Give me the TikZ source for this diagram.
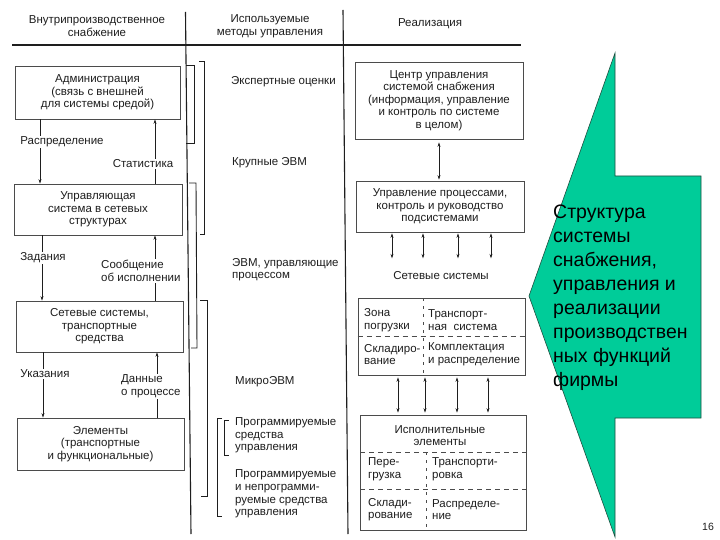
\documentclass[tikz,border=0pt]{standalone}
\usepackage{fontspec}
\setmainfont{Liberation Sans}
\usetikzlibrary{arrows.meta}
\definecolor{tealg}{HTML}{00CC99}
\definecolor{ink}{HTML}{1E1E1E}
\definecolor{tealedge}{HTML}{1F4F40}
\newcommand\scanfs{\fontsize{11.5pt}{12.6pt}\selectfont}
\newcommand\greenfs{\fontsize{19.5pt}{24pt}\selectfont}
\tikzset{
  box/.style={draw=ink!80, line width=0.7pt, align=center, inner sep=0pt, font=\scanfs, text=ink},
  lbl/.style={font=\scanfs, fill=white, inner sep=1pt, align=left, text=ink},
  txt/.style={font=\scanfs, inner sep=0pt, align=left, text=ink, anchor=west},
  arr/.style={draw=ink, line width=0.6pt, -{Stealth[length=4.5pt,width=3pt]}},
  darr/.style={draw=ink, line width=0.6pt, {Stealth[length=4.5pt,width=3pt]}-{Stealth[length=4.5pt,width=3pt]}},
  rule/.style={draw=ink, line width=1.1pt},
  brk/.style={draw=ink, line width=0.9pt},
  celldash/.style={draw=ink!80, line width=0.6pt, dash pattern=on 5pt off 4pt},
  cellvdash/.style={draw=ink!80, line width=0.6pt, dash pattern=on 3pt off 5pt},
}
\begin{document}
\begin{tikzpicture}[x=1pt,y=-1pt]
\useasboundingbox (0,0) rectangle (720,540);
\fill[white] (0,0) rectangle (720,540);

% green callout shape
\draw[fill=tealg, draw=tealedge, line width=0.6pt]
  (615,53) -- (615,176) -- (701,176) -- (701,418) -- (615,418) -- (615,537) -- (529,296) -- cycle;

% header
\node[font=\scanfs, align=center, text=ink] (h1) at (97,26) {Внутрипроизводственное\\снабжение};
\node[font=\scanfs, align=center, text=ink] (h2) at (270,26) {Используемые\\методы управления};
\node[font=\scanfs, text=ink] (h3) at (430,24) {Реализация};
\draw[rule] (12,45) -- (521,45);
\draw[rule] (185.5,12) -- (191,534);
\draw[rule] (343,10) -- (348,534);

% column 1 boxes
\node[box, minimum width=165pt, minimum height=53pt] (adm) at (97.5,92.5) {Администрация\\(связь с внешней\\для системы средой)};
\node[box, minimum width=168pt, minimum height=51pt] (ups) at (98,209.5) {Управляющая\\система в сетевых\\структурах};
\node[box, minimum width=167pt, minimum height=51pt] (net) at (99.5,326.5) {Сетевые системы,\\транспортные\\средства};
\node[box, minimum width=167pt, minimum height=52pt] (elm) at (100.5,444) {Элементы\\(транспортные\\и функциональные)};

\coordinate (c1) at (40,0);
\coordinate (c2) at (155,0);
\coordinate (c3) at (42,0);
\coordinate (c4) at (155,0);
\coordinate (c5) at (43,0);
\coordinate (c6) at (157,0);
\draw[arr] (adm.south -| c1) -- (ups.north -| c1);
\draw[arr] (ups.north -| c2) -- (adm.south -| c2);
\draw[arr] (ups.south -| c3) -- (net.north -| c3);
\draw[arr] (net.north -| c4) -- (ups.south -| c4);
\draw[arr] (net.south -| c5) -- (elm.north -| c5);
\draw[arr] (elm.north -| c6) -- (net.south -| c6);
\node[lbl] (l1) at (62,142) {Распределение};
\node[lbl] (l2) at (143,164) {Статистика};
\node[lbl] (l3) at (43,258) {Задания};
\node[lbl, anchor=west] (l4) at (100,271) {Сообщение\\об исполнении};
\node[lbl] (l5) at (45,374) {Указания};
\node[lbl, anchor=west] (l6) at (120,386.5) {Данные\\о процессе};

% column 2 brackets
\draw[brk] (186,65) -- (194,65) -- (194,143) -- (186,143);
\draw[brk] (199,61) -- (204,61) -- (204,234) -- (200,234);
\draw[brk] (189,183) -- (196,183) -- (197,348) -- (191,348);
\draw[brk] (200,300) -- (207,300) -- (207,496) -- (201,496);
\draw[brk] (222,418) -- (217,418) -- (217,516) -- (222,516);
\draw[brk] (229,420) -- (224,420) -- (224,455) -- (229,455);

% column 2 labels
\node[txt] (m1) at (231,82) {Экспертные оценки};
\node[txt] (m2) at (232,163) {Крупные ЭВМ};
\node[txt] (m3) at (232,269.5) {ЭВМ, управляющие\\процессом};
\node[txt] (m4) at (235,382) {МикроЭВМ};
\node[txt] (m5) at (235,435.5) {Программируемые\\средства\\управления};
\node[txt] (m6) at (235,494) {Программируемые\\и непрограмми-\\руемые средства\\управления};

% column 3
\node[box, minimum width=168pt, minimum height=77pt] (ctr) at (439,100.5) {Центр управления\\системой снабжения\\(информация, управление\\и контроль по системе\\в целом)};
\node[box, minimum width=168pt, minimum height=51pt] (upr) at (440,206.5) {Управление процессами,\\контроль и руководство\\подсистемами};
\node[font=\scanfs, text=ink] (ss) at (441,276) {Сетевые системы};
\node[box, minimum width=167pt, minimum height=77pt] (g1) at (441.5,336.5) {};
\node[box, minimum width=166pt, minimum height=115pt] (g2) at (443,472.5) {};

\draw[celldash] (g1.west) -- (g1.east);
\draw[cellvdash] (423,298) -- (423,375);
\node[txt] (g1a) at (364,320) {Зона\\погрузки};
\node[txt] (g1b) at (428,320) {Транспорт-\\ная\ \ система};
\node[txt] (g1c) at (364,354.5) {Складиро-\\вание};
\node[txt] (g1d) at (428,354.5) {Комплектация\\и распределение};

\node[font=\scanfs, align=center, text=ink] (g2h) at (440,435.5) {Исполнительные\\элементы};
\draw[celldash] (360,452) -- (526,452);
\draw[celldash] (360,489) -- (526,489);
\draw[cellvdash] (426,452) -- (426,530);
\node[txt] (g2a) at (368,469.5) {Пере-\\грузка};
\node[txt] (g2b) at (432,469.5) {Транспорти-\\ровка};
\node[txt] (g2c) at (368,509.5) {Склади-\\рование};
\node[txt] (g2d) at (432,509.5) {Распределе-\\ние};

\coordinate (a1) at (392,0);
\coordinate (a2) at (423,0);
\coordinate (a3) at (458,0);
\coordinate (a4) at (491,0);
\coordinate (b1) at (398,0);
\coordinate (b2) at (425,0);
\coordinate (b3) at (457,0);
\coordinate (b4) at (488,0);
\draw[darr, shorten <=3pt, shorten >=1pt] (ctr.south) -- (ctr.south |- upr.north);
\foreach \a in {a1,a2,a3,a4}
  \draw[darr, shorten <=1pt, shorten >=10pt] (upr.south -| \a) -- (ss.north -| \a);
\foreach \b in {b1,b2,b3,b4}
  \draw[darr, shorten <=2pt, shorten >=2pt] (g1.south -| \b) -- (g2.north -| \b);

% green text
\node[font=\greenfs, align=left, anchor=north west, inner sep=0pt, text=black] (gt) at (553,205) {Структура\\системы\\снабжения,\\управления и\\реализации\\производствен\\ных функций\\фирмы};

\node[font=\fontsize{10.5pt}{12pt}\selectfont, text=ink] (pg) at (708,527) {16};
\end{tikzpicture}
\end{document}
